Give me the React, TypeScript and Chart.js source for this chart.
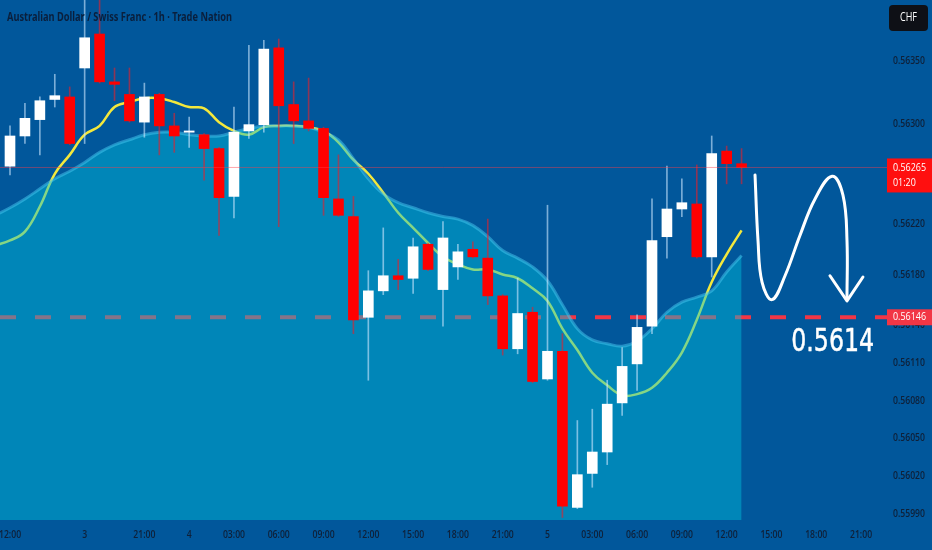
import React, { useEffect, useRef } from "react";
import { Chart, registerables } from "chart.js";

Chart.register(...registerables);

// ---- Data (hourly candles, bar index 0..49) ----
const OPEN = [0.56266, 0.5629, 0.56303, 0.56319, 0.56321, 0.56344, 0.56371, 0.56333, 0.56323, 0.56301,
  0.56323, 0.56298, 0.56293, 0.56291, 0.5628, 0.56242, 0.56294, 0.56299, 0.5636, 0.56315,
  0.56302, 0.56296, 0.5624, 0.56226, 0.56146, 0.56167, 0.56179, 0.56177, 0.56204, 0.56168,
  0.56186, 0.562, 0.56193, 0.56163, 0.56121, 0.5615, 0.56097, 0.56119, 0.55995, 0.56022,
  0.56039, 0.56078, 0.56109, 0.56139, 0.5621, 0.56232, 0.56236, 0.56194, 0.56278, 0.56268];
const HIGH = [0.56298, 0.56316, 0.56321, 0.56339, 0.56329, 0.564, 0.564, 0.56344, 0.56344, 0.56332,
  0.56324, 0.56308, 0.56305, 0.56292, 0.56281, 0.56313, 0.56362, 0.56366, 0.56367, 0.56333,
  0.56336, 0.56297, 0.56275, 0.56242, 0.56183, 0.56217, 0.56192, 0.56209, 0.56205, 0.56222,
  0.56204, 0.56206, 0.56224, 0.56164, 0.56177, 0.56154, 0.56235, 0.56133, 0.56064, 0.56073,
  0.56096, 0.56122, 0.56148, 0.5624, 0.56266, 0.56256, 0.56267, 0.5629, 0.56282, 0.5628];
const LOW = [0.56259, 0.56284, 0.56275, 0.56313, 0.56283, 0.56284, 0.56332, 0.56318, 0.56301, 0.56289,
  0.56275, 0.56277, 0.56281, 0.56255, 0.56211, 0.56225, 0.56288, 0.56293, 0.56218, 0.56284,
  0.56294, 0.56227, 0.56226, 0.56133, 0.56096, 0.56164, 0.56168, 0.56165, 0.56183, 0.56139,
  0.56176, 0.56193, 0.56156, 0.56116, 0.56117, 0.56094, 0.56096, 0.55987, 0.55994, 0.56011,
  0.56029, 0.56068, 0.56088, 0.56133, 0.56193, 0.56226, 0.56193, 0.56178, 0.56252, 0.56252];
const CLOSE = [0.5629, 0.56304, 0.56318, 0.56322, 0.56284, 0.56368, 0.56333, 0.56331, 0.56302, 0.56321,
  0.56298, 0.5629, 0.56294, 0.5628, 0.56241, 0.56293, 0.56299, 0.56359, 0.56314, 0.56302,
  0.56296, 0.56241, 0.56227, 0.56144, 0.56167, 0.56179, 0.56176, 0.56202, 0.56184, 0.56209,
  0.56198, 0.56194, 0.56163, 0.56121, 0.56149, 0.56095, 0.56119, 0.55996, 0.56021, 0.56039,
  0.56077, 0.56107, 0.56138, 0.56207, 0.56232, 0.56237, 0.56194, 0.56276, 0.56268, 0.56265];

// Moving averages start one bar before the first visible candle
const MA_START = -1;
const MA_FAST = [0.56203, 0.56207, 0.56214, 0.56234, 0.5626, 0.56275, 0.56291, 0.56298, 0.56313, 0.56317,
  0.5632, 0.5632, 0.56317, 0.56313, 0.56312, 0.56301, 0.56294, 0.56291, 0.56297, 0.56298,
  0.56298, 0.56297, 0.56294, 0.56285, 0.56271, 0.5626, 0.56245, 0.56229, 0.56217, 0.56205,
  0.56194, 0.56188, 0.56184, 0.56184, 0.5618, 0.56177, 0.56169, 0.56159, 0.56137, 0.5612,
  0.56102, 0.56092, 0.56084, 0.56085, 0.5609, 0.56102, 0.56118, 0.56144, 0.56174, 0.56196, 0.56215];
const MA_SLOW = [0.56227, 0.56233, 0.5624, 0.56248, 0.56256, 0.56262, 0.56269, 0.56277, 0.56283, 0.56287,
  0.56291, 0.56293, 0.56293, 0.56291, 0.5629, 0.5629, 0.56293, 0.56296, 0.56298, 0.56298,
  0.56298, 0.56297, 0.56293, 0.56287, 0.56272, 0.56256, 0.56244, 0.56237, 0.56233, 0.56229,
  0.56226, 0.56224, 0.56219, 0.5621, 0.56199, 0.56193, 0.56186, 0.56175, 0.56156, 0.56137,
  0.56128, 0.56125, 0.56123, 0.56127, 0.56137, 0.5615, 0.56158, 0.56162, 0.56167, 0.56182, 0.56195];

const X_TICKS = [0, 5, 9, 12, 15, 18, 21, 24, 27, 30, 33, 36, 39, 42, 45, 48, 51, 54, 57];
const X_LABELS = ["12:00", "3", "21:00", "4", "03:00", "06:00", "09:00", "12:00", "15:00", "18:00",
  "21:00", "5", "03:00", "06:00", "09:00", "12:00", "15:00", "18:00", "21:00"];
const Y_TICKS = [0.5599, 0.5602, 0.5605, 0.5608, 0.5611, 0.5614, 0.5618, 0.5622, 0.5626, 0.563, 0.5635];

const CURRENT_PRICE = 0.56265;
const COUNTDOWN = "01:20";
const TARGET_LEVEL = 0.56146;
const TARGET_TEXT = "0.5614";
const TARGET_TEXT_AT = { x: 55.1, y: 0.56126 };
const TITLE = "Australian Dollar / Swiss Franc · 1h · Trade Nation";
const CURRENCY = "CHF";

// hand-drawn projection arrow (bar index, price)
const ARROW_X = [49.9, 50.1, 50.37, 51.04, 51.91, 52.91, 53.92, 55.06, 55.79, 56.06, 56.06];
const ARROW_Y = [0.56259, 0.56207, 0.56174, 0.5616, 0.56179, 0.56211, 0.5624, 0.56258, 0.56243, 0.56207, 0.56161];
const HEAD_X = [54.92, 56.06, 57.13];
const HEAD_Y = [0.56179, 0.56159, 0.56178];

const X_MIN = -0.67;
const X_MAX = 58.74;
const Y_MIN = 0.55985;
const Y_MAX = 0.56398;

const BG = "#01579b";
const AXIS_FONT = '600 11px "Open Sans", "Noto Sans"';
const AXIS_COLOR = "#0f2038";

function txt(ctx: CanvasRenderingContext2D, s: string, x: number, y: number, font: string,
  color: string, sx: number, align: "left" | "center" | "right", stroke = 0) {
  ctx.save();
  ctx.font = font;
  ctx.fillStyle = color;
  ctx.strokeStyle = color;
  ctx.textBaseline = "middle";
  ctx.textAlign = "left";
  const w = ctx.measureText(s).width * sx;
  const left = align === "left" ? x : align === "center" ? x - w / 2 : x - w;
  ctx.translate(left, y);
  ctx.scale(sx, 1);
  ctx.fillText(s, 0, 0);
  if (stroke > 0) {
    ctx.lineWidth = stroke;
    ctx.lineJoin = "round";
    ctx.strokeText(s, 0, 0);
  }
  ctx.restore();
}

function fitScale(ctx: CanvasRenderingContext2D, font: string, sample: string, width: number) {
  ctx.save();
  ctx.font = font;
  const w = ctx.measureText(sample).width;
  ctx.restore();
  return w > 0 ? width / w : 1;
}

export default function App() {
  const ref = useRef<HTMLCanvasElement>(null);

  useEffect(() => {
    document.body.style.margin = "0";
    const canvas = ref.current!;
    const idx = OPEN.map((_, i) => i);
    const up = idx.map((i) => CLOSE[i] >= OPEN[i]);

    const overlay = {
      id: "overlay",
      beforeDraw(chart: any) {
        const { ctx, width, height } = chart;
        ctx.save();
        ctx.fillStyle = BG;
        ctx.fillRect(0, 0, width, height);
        ctx.restore();
      },
      afterDraw(chart: any) {
        const { ctx, chartArea, scales, width } = chart;
        const xs = scales.x;
        const ys = scales.y;
        const right = chartArea.right;

        const titleFont = 'bold 13px "Noto Sans"';
        txt(ctx, TITLE, 7, 17, titleFont, "#0a1f3c", fitScale(ctx, titleFont, TITLE, 225), "left");

        ctx.save();
        ctx.fillStyle = "#0e1016";
        ctx.beginPath();
        (ctx as any).roundRect(889, 5, 39, 26, 4);
        ctx.fill();
        ctx.restore();
        const chfFont = '12px "Open Sans", "Noto Sans"';
        txt(ctx, CURRENCY, 908.5, 18, chfFont, "#ffffff", fitScale(ctx, chfFont, CURRENCY, 17), "center");

        const sxA = fitScale(ctx, AXIS_FONT, "0.56350", 32);
        Y_TICKS.forEach((t) => {
          txt(ctx, t.toFixed(5), right + 6, ys.getPixelForValue(t), AXIS_FONT, AXIS_COLOR, sxA, "left");
        });
        X_TICKS.forEach((t, k) => {
          txt(ctx, X_LABELS[k], xs.getPixelForValue(t), chartArea.bottom + 15, AXIS_FONT, AXIS_COLOR, sxA, "center");
        });

        const cy = ys.getPixelForValue(CURRENT_PRICE);
        ctx.save();
        ctx.fillStyle = "#ff0f0f";
        ctx.fillRect(right, cy - 9, width - right, 34);
        ctx.restore();
        const boxFont = '11px "Open Sans", "Noto Sans"';
        const sxB = fitScale(ctx, boxFont, "0.56265", 33);
        txt(ctx, CURRENT_PRICE.toFixed(5), right + 6, cy, boxFont, "#ffffff", sxB, "left");
        txt(ctx, COUNTDOWN, right + 6, cy + 15, boxFont, "#ffffff", sxB, "left");

        const ty = ys.getPixelForValue(TARGET_LEVEL);
        ctx.save();
        ctx.fillStyle = "#f23645";
        ctx.fillRect(right, ty - 8, width - right, 16);
        ctx.restore();
        txt(ctx, TARGET_LEVEL.toFixed(5), right + 6, ty, boxFont, "#ffffff", sxB, "left");

        const bigFont = '32px "DejaVu Sans"';
        txt(ctx, TARGET_TEXT, xs.getPixelForValue(TARGET_TEXT_AT.x), ys.getPixelForValue(TARGET_TEXT_AT.y),
          bigFont, "#ffffff", fitScale(ctx, bigFont, TARGET_TEXT, 83), "center", 0.5);
      },
    };

    const chart = new Chart(canvas, {
      type: "bar",
      data: {
        datasets: [
          {
            type: "line",
            label: "current",
            data: [{ x: X_MIN, y: CURRENT_PRICE }, { x: X_MAX, y: CURRENT_PRICE }],
            borderColor: "rgba(255,60,70,0.45)",
            borderWidth: 1,
            pointRadius: 0,
            order: -1,
          } as any,
          {
            type: "line",
            label: "arrow",
            data: ARROW_X.map((x, k) => ({ x, y: ARROW_Y[k] })),
            borderColor: "#ffffff",
            borderWidth: 3,
            tension: 0.4,
            borderCapStyle: "round",
            borderJoinStyle: "round",
            pointRadius: 0,
            order: -2,
          },
          {
            type: "line",
            label: "arrowHead",
            data: HEAD_X.map((x, k) => ({ x, y: HEAD_Y[k] })),
            borderColor: "#ffffff",
            borderWidth: 3,
            tension: 0,
            borderCapStyle: "round",
            borderJoinStyle: "round",
            pointRadius: 0,
            order: -2,
          },
          {
            type: "bar",
            label: "bodies",
            data: idx.map((i) => ({ x: i, y: [OPEN[i], CLOSE[i]] })),
            backgroundColor: up.map((u) => (u ? "#ffffff" : "#ff0000")),
            borderWidth: 0,
            barThickness: 10,
            grouped: false,
            order: 1,
          },
          {
            type: "bar",
            label: "wicks",
            data: idx.map((i) => ({ x: i, y: [LOW[i], HIGH[i]] })),
            backgroundColor: up.map((u) => (u ? "rgba(205,232,255,0.6)" : "rgba(235,30,40,0.6)")),
            borderWidth: 0,
            barThickness: 1,
            grouped: false,
            order: 2,
          },
          {
            type: "line",
            label: "slow",
            data: MA_SLOW.map((v, k) => ({ x: k + MA_START, y: v })),
            borderColor: "rgba(70,200,240,0.5)",
            borderWidth: 3,
            backgroundColor: "rgba(0,193,219,0.45)",
            fill: "start",
            tension: 0.4,
            pointRadius: 0,
            order: 3,
          },
          {
            type: "line",
            label: "fast",
            data: MA_FAST.map((v, k) => ({ x: k + MA_START, y: v })),
            borderColor: "#f3e83c",
            borderWidth: 2.5,
            tension: 0.4,
            pointRadius: 0,
            order: 4,
          },
          {
            type: "line",
            label: "target",
            data: [{ x: X_MIN, y: TARGET_LEVEL }, { x: X_MAX, y: TARGET_LEVEL }],
            borderColor: "#f23645",
            borderWidth: 4,
            borderDash: [16, 19],
            pointRadius: 0,
            order: 5,
          },
        ] as any,
      },
      options: {
        responsive: false,
        animation: false,
        events: [],
        layout: { padding: { left: 0, top: 0, right: 45, bottom: 30 } },
        plugins: { legend: { display: false }, tooltip: { enabled: false } },
        scales: {
          x: { type: "linear", min: X_MIN, max: X_MAX, display: false, offset: false },
          y: { type: "linear", min: Y_MIN, max: Y_MAX, display: false, beginAtZero: false },
        },
      },
      plugins: [overlay],
    } as any);

    return () => chart.destroy();
  }, []);

  return (
    <div style={{ position: "absolute", left: 0, top: 0, width: 932, height: 550 }}>
      <canvas ref={ref} width={932} height={550} style={{ display: "block", width: 932, height: 550 }} />
    </div>
  );
}
